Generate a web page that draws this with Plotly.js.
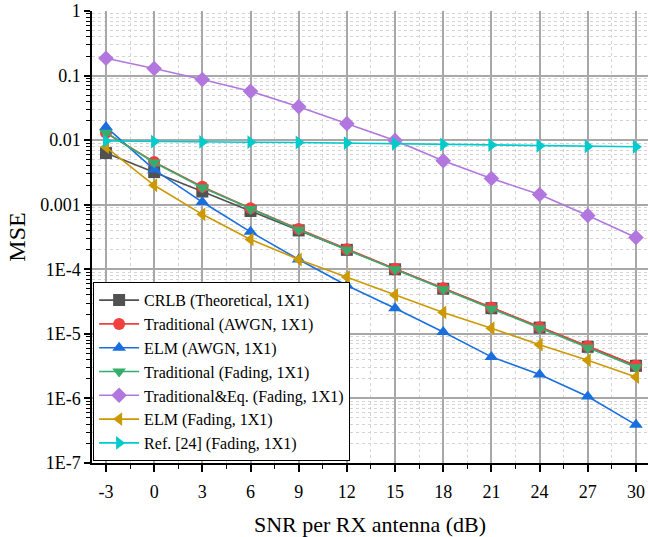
<!DOCTYPE html>
<html>
<head>
<meta charset="utf-8">
<script src="https://cdn.plot.ly/plotly-3.0.1.min.js"></script>
</head>
<body style="margin:0;background:#fff">
<div id="chart" style="width:648px;height:537px"></div>
<script>
const snr = [-3, 0, 3, 6, 9, 12, 15, 18, 21, 24, 27, 30];

const crlb      = [0.0063, 0.0032, 0.0016, 0.0008, 0.0004, 0.0002, 0.0001, 5.0e-5, 2.5e-5, 1.25e-5, 6.3e-6, 3.2e-6];
const tradAwgn  = [0.013, 0.0046, 0.0019, 0.00088, 0.00042, 0.000205, 0.000102, 5.1e-5, 2.55e-5, 1.27e-5, 6.4e-6, 3.25e-6];
const elmAwgn   = [0.016, 0.0035, 0.0011, 0.00038, 0.000142, 5.6e-5, 2.5e-5, 1.07e-5, 4.4e-6, 2.35e-6, 1.07e-6, 3.9e-7];
const tradFad   = [0.013, 0.0045, 0.00185, 0.00086, 0.00041, 0.0002, 0.0001, 4.9e-5, 2.45e-5, 1.22e-5, 6.1e-6, 3.05e-6];
const tradEqFad = [0.185, 0.129, 0.087, 0.057, 0.033, 0.018, 0.0099, 0.0048, 0.00255, 0.00144, 0.00068, 0.00031];
const elmFad    = [0.0078, 0.002, 0.00071, 0.00029, 0.000142, 7.6e-5, 4.0e-5, 2.15e-5, 1.22e-5, 6.8e-6, 3.9e-6, 2.15e-6];
const ref24     = [0.0097, 0.0095, 0.0094, 0.0093, 0.0092, 0.0090, 0.0088, 0.0086, 0.0084, 0.0082, 0.0080, 0.0079];

const seriesNames = [
  "CRLB (Theoretical, 1X1)",
  "Traditional (AWGN, 1X1)",
  "ELM (AWGN, 1X1)",
  "Traditional (Fading, 1X1)",
  "Traditional&Eq. (Fading, 1X1)",
  "ELM (Fading, 1X1)",
  "Ref. [24] (Fading, 1X1)"
];
const seriesData = [crlb, tradAwgn, elmAwgn, tradFad, tradEqFad, elmFad, ref24];
const colors = ["#515151", "#F14040", "#1A6FDF", "#37AD6B", "#B177DE", "#CC9900", "#00CBCC"];
const symbols = ["square", "circle", "triangle-up", "triangle-down", "diamond", "triangle-left", "triangle-right"];

const yTickVals = [1, 0.1, 0.01, 0.001, 1e-4, 1e-5, 1e-6, 1e-7];
const yTickText = ["1", "0.1", "0.01", "0.001", "1E-4", "1E-5", "1E-6", "1E-7"];

const traces = seriesData.map((d, i) => ({
  x: snr, y: d, name: seriesNames[i], type: "scatter", mode: "lines+markers",
  line: {color: colors[i], width: 1.6},
  marker: {symbol: symbols[i], size: 12, color: colors[i], line: {width: 0}}
}));

const layout = {
  width: 648, height: 537,
  margin: {l: 92, r: 0, t: 11, b: 74},
  paper_bgcolor: "#fff", plot_bgcolor: "#fff",
  showlegend: true,
  legend: {
    x: 0.002, y: 0.004, xanchor: "left", yanchor: "bottom",
    bgcolor: "#fff", bordercolor: "#000", borderwidth: 1,
    font: {family: "Liberation Serif", size: 16, color: "#000"},
    tracegroupgap: 0, itemwidth: 40
  },
  xaxis: {
    range: [-3.87, 30.75],
    tickvals: snr, ticktext: snr.map(String),
    ticks: "outside", ticklen: 7, tickwidth: 1.5, tickcolor: "#000",
    ticklabelstandoff: 5,
    showline: true, linecolor: "#000", linewidth: 1.5,
    showgrid: true, gridcolor: "#a8a8a8", gridwidth: 1.5,
    zeroline: false,
    tickfont: {family: "Liberation Serif", size: 18, color: "#000"},
    title: {text: "SNR per RX antenna (dB)", font: {family: "Liberation Serif", size: 22, color: "#000"}, standoff: 16},
    minor: {dtick: 1.5, tick0: -3, ticks: "outside", ticklen: 4, tickcolor: "#000", tickwidth: 1.2,
            showgrid: true, gridcolor: "#d4d4d4", griddash: "dot", gridwidth: 1}
  },
  yaxis: {
    type: "log", range: [-7, 0],
    tickvals: yTickVals, ticktext: yTickText,
    ticks: "outside", ticklen: 6, tickwidth: 1.5, tickcolor: "#000",
    ticklabeloverflow: "allow",
    showline: true, linecolor: "#000", linewidth: 1.5,
    showgrid: true, gridcolor: "#a8a8a8", gridwidth: 1.5,
    zeroline: false,
    tickfont: {family: "Liberation Serif", size: 18, color: "#000"},
    title: {text: "MSE", font: {family: "Liberation Serif", size: 24, color: "#000"}, standoff: 8},
    minor: {dtick: "D1", ticks: "outside", ticklen: 4, tickcolor: "#000", tickwidth: 1.2,
            showgrid: true, gridcolor: "#d4d4d4", griddash: "dot", gridwidth: 1}
  }
};

Plotly.newPlot("chart", traces, layout, {displayModeBar: false});
</script>
</body>
</html>
